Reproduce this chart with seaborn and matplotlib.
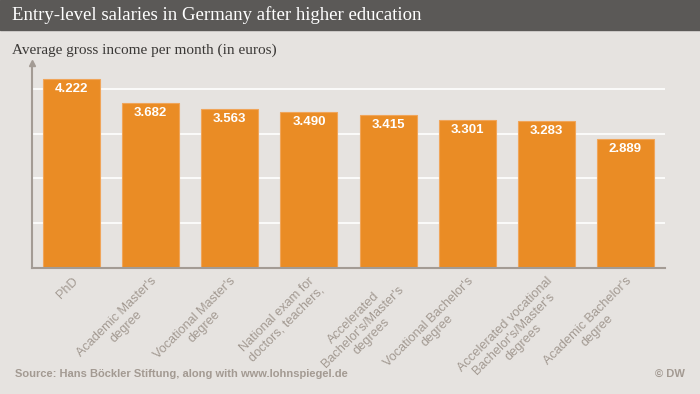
import numpy as np
import pandas as pd
import seaborn as sns
import matplotlib.pyplot as plt

categories = [
    "PhD",
    "Academic Master's\ndegree",
    "Vocational Master's\ndegree",
    "National exam for\ndoctors, teachers,",
    "Accelerated\nBachelor's/Master's\ndegrees",
    "Vocational Bachelor's\ndegree",
    "Accelerated vocational\nBachelor's/Master's\ndegrees",
    "Academic Bachelor's\ndegree",
]
salaries = [4222, 3682, 3563, 3490, 3415, 3301, 3283, 2889]
value_labels = ["4.222", "3.682", "3.563", "3.490", "3.415", "3.301", "3.283", "2.889"]

BG = '#e6e3e0'
BAR = '#ea8c25'
GREY = '#a39a92'

df = pd.DataFrame({'degree': categories, 'salary': salaries})

sns.set_style('white')
plt.rcParams['font.family'] = ['Liberation Sans', 'DejaVu Sans']

fig = plt.figure(figsize=(7, 3.94), dpi=100, facecolor=BG)
ax = fig.add_axes([32 / 700, 1 - 268 / 394, (665 - 32) / 700, (268 - 63) / 394])
ax.set_facecolor(BG)

# gridlines behind bars
for y in [1000, 2000, 3000, 4000]:
    ax.axhline(y, color='white', lw=1.2, zorder=0)

sns.barplot(data=df, x='degree', y='salary', color=BAR, saturation=1,
            width=0.72, ax=ax, zorder=2, edgecolor='#f0a55a', linewidth=0.8)

ax.set_xlim(-0.5, 7.5)
ax.set_ylim(0, 4580)
ax.set_yticks([])
ax.set_xlabel('')
ax.set_ylabel('')

for s in ['top', 'right']:
    ax.spines[s].set_visible(False)
ax.spines['left'].set_color('#a39b94')
ax.spines['bottom'].set_color('#a39b94')
ax.spines['left'].set_linewidth(1.5)
ax.spines['bottom'].set_linewidth(1.5)
ax.plot(0, 1, '^', color='#a39b94', markersize=4, transform=ax.transAxes, clip_on=False)

for i, (v, lab) in enumerate(zip(salaries, value_labels)):
    ax.text(i, v - 90, lab, ha='center', va='top', color='white',
            fontsize=9.5, fontweight='bold', zorder=3)

ax.tick_params(axis='x', length=0, pad=5)
ax.set_xticks(range(len(categories)))
ax.set_xticklabels(categories, rotation=45, ha='right', rotation_mode='anchor',
                   color=GREY, fontsize=9.2, linespacing=1.1, multialignment='center')

# title band
fig.patches.append(plt.Rectangle((0, 1 - 30 / 394), 1, 30 / 394, transform=fig.transFigure,
                                 color='#5b5957', zorder=0))
fig.text(12 / 700, 1 - 15 / 394, 'Entry-level salaries in Germany after higher education',
         color='white', fontsize=13.5, family=['Liberation Serif', 'DejaVu Serif'],
         va='center', ha='left')
fig.text(12 / 700, 1 - 50 / 394, 'Average gross income per month (in euros)',
         color='#3a3836', fontsize=11, family=['Liberation Serif', 'DejaVu Serif'],
         va='center', ha='left')

fig.text(15 / 700, 1 - 374 / 394, 'Source: Hans Böckler Stiftung, along with www.lohnspiegel.de',
         color=GREY, fontsize=8, fontweight='bold', va='center', ha='left')
fig.text(685 / 700, 1 - 374 / 394, '© DW', color=GREY, fontsize=8, fontweight='bold',
         va='center', ha='right')

fig.savefig('out.png', dpi=100, facecolor=BG)
